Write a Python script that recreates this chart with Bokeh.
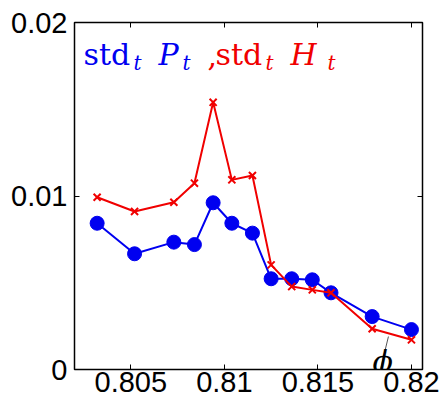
from bokeh.plotting import figure
from bokeh.models import Range1d, FixedTicker, LinearAxis, Label
from bokeh.embed import file_html
from bokeh.resources import INLINE

# ---- data ----
phi = [0.8032, 0.8052, 0.8073, 0.8084, 0.8094, 0.8104, 0.8115,
       0.8125, 0.8136, 0.8147, 0.8157, 0.8179, 0.8200]
std_P = [0.00843, 0.00667, 0.00734, 0.00720, 0.00961, 0.00843, 0.00786,
         0.00523, 0.00523, 0.00517, 0.00442, 0.00305, 0.00230]
std_H = [0.00993, 0.00911, 0.00964, 0.01074, 0.01540, 0.01093, 0.01118,
         0.00603, 0.00478, 0.00459, 0.00442, 0.00235, 0.00171]
x_ticks = [0.805, 0.81, 0.815, 0.82]
x_tick_labels = ["0.805", "0.81", "0.815", "0.82"]
y_ticks = [0, 0.01, 0.02]
y_tick_labels = ["0", "0.01", "0.02"]
# annotation pointer for the phi label (data coords)
phi_pointer_x = [0.81834, 0.81877]
phi_pointer_y = [0.0, 0.0019]

BLUE = "#0000f0"
RED = "#f00000"

p = figure(width=442, height=403, output_backend="svg", toolbar_location=None,
           x_range=Range1d(0.80199, 0.82059), y_range=Range1d(0.0, 0.02),
           min_border_left=74, min_border_top=22, min_border_right=20,
           min_border_bottom=34)
p.xgrid.visible = False
p.ygrid.visible = False
p.outline_line_color = "black"
p.outline_line_width = 1.5
p.background_fill_color = "white"
p.border_fill_color = "white"

def style_axis(ax, ticks, labels, show_labels):
    ax.ticker = FixedTicker(ticks=ticks)
    ax.axis_line_color = None
    ax.major_tick_in = 5
    ax.major_tick_out = 0
    ax.major_tick_line_color = "black"
    ax.major_tick_line_width = 1
    ax.minor_tick_line_color = None
    ax.major_label_text_font = "Liberation Sans"
    ax.major_label_text_font_size = "29px"
    if show_labels:
        ax.major_label_overrides = {t: l for t, l in zip(ticks, labels)}
        ax.major_label_text_color = "black"
    else:
        ax.major_label_overrides = {t: "" for t in ticks}
        ax.major_label_text_color = None
        ax.major_label_standoff = 0

style_axis(p.xaxis[0], x_ticks, x_tick_labels, True)
style_axis(p.yaxis[0], y_ticks, y_tick_labels, True)
p.xaxis[0].major_label_standoff = 2
p.yaxis[0].major_label_standoff = 7

top = LinearAxis()
style_axis(top, x_ticks, x_tick_labels, False)
p.add_layout(top, "above")
right = LinearAxis()
style_axis(right, y_ticks, y_tick_labels, False)
p.add_layout(right, "right")

# series
p.line(phi, std_P, line_color=BLUE, line_width=2)
p.scatter(phi, std_P, marker="circle", size=14, fill_color=BLUE, line_color=BLUE)
p.line(phi, std_H, line_color=RED, line_width=2)
p.scatter(phi, std_H, marker="x", size=10, line_color=RED, line_width=2)

# phi pointer
p.segment(x0=[phi_pointer_x[0]], y0=[phi_pointer_y[0]],
          x1=[phi_pointer_x[1]], y1=[phi_pointer_y[1]],
          line_color="#555555", line_width=1)

# coordinate helpers for placing the title-like text (pixel -> data)
def dx(px):
    return 0.805 + (px - 130.3) / 18714.0

def dy(py):
    return (369.0 - py) / 17350.0

pieces = [
    ("std", 83, 54, "normal", "30px", BLUE),
    ("t", 133, 62, "italic", "20px", BLUE),
    ("P", 158, 54, "italic", "30px", BLUE),
    ("t", 182, 62, "italic", "20px", BLUE),
    (",", 207, 54, "normal", "30px", RED),
    ("std", 215, 54, "normal", "30px", RED),
    ("t", 265, 62, "italic", "20px", RED),
    ("H", 290, 54, "italic", "30px", RED),
    ("t", 327, 62, "italic", "20px", RED),
]
for txt, px, py, style, size, col in pieces:
    p.add_layout(Label(x=dx(px), y=dy(py), text=txt, text_font="DejaVu Serif",
                       text_font_style=style, text_font_size=size,
                       text_color=col, text_baseline="alphabetic",
                       text_align="left"))

p.add_layout(Label(x=dx(372), y=dy(361), text="\u03d5", text_font="DejaVu Serif",
                   text_font_style="italic", text_font_size="30px",
                   text_color="black", text_baseline="alphabetic",
                   text_align="left"))

open("out.html", "w").write(file_html(p, INLINE))
